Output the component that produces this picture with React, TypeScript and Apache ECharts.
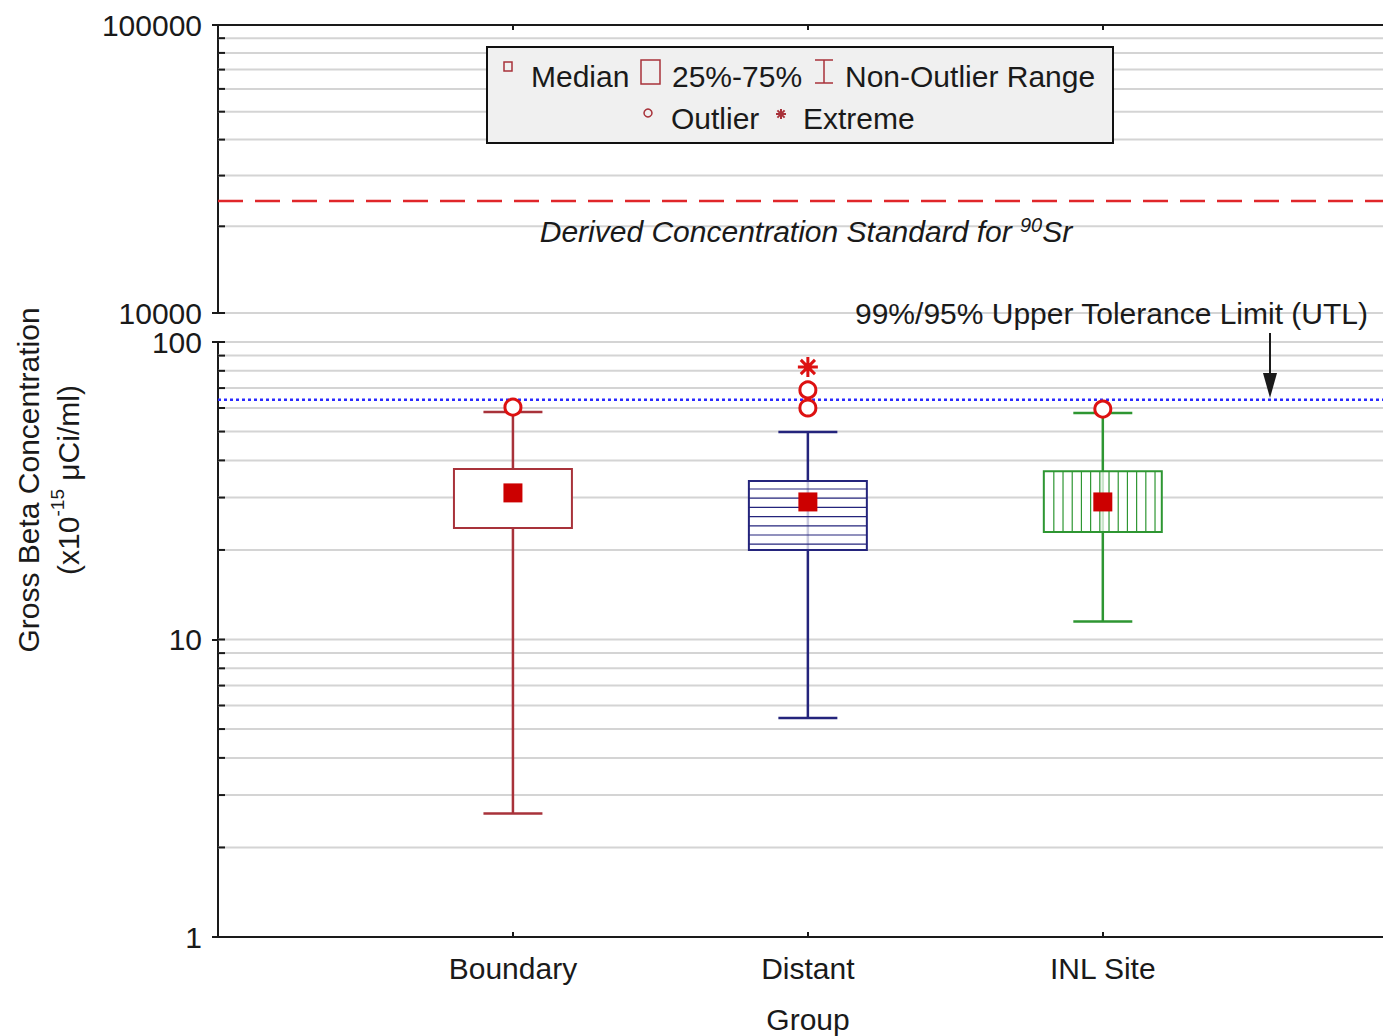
import React, { useEffect, useRef } from "react";
import * as echarts from "echarts";

const GROUPS = ["Boundary", "Distant", "INL Site"];
const GROUP_POS = [1, 2, 3];
const WHISKER_LOW = [2.6, 5.45, 11.5];
const Q1 = [23.7, 20.0, 23.0];
const MEDIAN = [31.1, 29.0, 29.0];
const Q3 = [37.4, 34.1, 36.8];
const WHISKER_HIGH = [58.2, 49.8, 57.7];
const OUTLIERS = [[60.4], [60.0, 69.0], [59.5]];
const EXTREMES = [[], [82.4], []];
const DCS = 24500;
const UTL = 64;
const UPPER_LINES = [10000, 20000, 30000, 40000, 50000, 60000, 70000, 80000, 90000];
const LOWER_LINES = [2, 3, 4, 5, 6, 7, 8, 9, 10, 20, 30, 40, 50, 60, 70, 80, 90, 100];
const BOX_COLORS = ["#a8323a", "#24247c", "#2e9632"];
const HATCH = ["none", "horizontal", "vertical"];
const XMAX = 3.95;

const FONT = "'Liberation Sans', Arial, sans-serif";
const INK = "#1a1a1a";

export default function App() {
  const ref = useRef<HTMLDivElement>(null);
  useEffect(() => {
    if (!ref.current) return;
    const chart = echarts.init(ref.current, undefined, { renderer: "svg" });

    const gridRender = (params: any, api: any) => {
      const v = api.value(1);
      const a = api.coord([0, v]);
      const b = api.coord([XMAX, v]);
      return {
        type: "group",
        children: [
          { type: "line", shape: { x1: a[0], y1: a[1], x2: b[0], y2: b[1] }, style: { stroke: "#d4d4d4", lineWidth: 2 } },
          { type: "line", shape: { x1: a[0], y1: a[1], x2: a[0] + 7, y2: a[1] }, style: { stroke: INK, lineWidth: 2 } },
        ],
      };
    };

    const boxRender = (params: any, api: any) => {
      const i = params.dataIndex;
      const x = api.value(0);
      const low = api.value(1), q1 = api.value(2), q3 = api.value(4), high = api.value(5);
      const color = BOX_COLORS[i];
      const pLow = api.coord([x, low]);
      const pHigh = api.coord([x, high]);
      const pQ1 = api.coord([x, q1]);
      const pQ3 = api.coord([x, q3]);
      const left = api.coord([x - 0.2, q3])[0];
      const right = api.coord([x + 0.2, q3])[0];
      const capL = api.coord([x - 0.1, q3])[0];
      const capR = api.coord([x + 0.1, q3])[0];
      const top = pQ3[1], bottom = pQ1[1];
      const children: any[] = [
        { type: "line", shape: { x1: pLow[0], y1: pLow[1], x2: pHigh[0], y2: pHigh[1] }, style: { stroke: color, lineWidth: 2.5 } },
        { type: "line", shape: { x1: capL, y1: pLow[1], x2: capR, y2: pLow[1] }, style: { stroke: color, lineWidth: 2.5 } },
        { type: "line", shape: { x1: capL, y1: pHigh[1], x2: capR, y2: pHigh[1] }, style: { stroke: color, lineWidth: 2.5 } },
        {
          type: "rect",
          shape: { x: left, y: top, width: right - left, height: bottom - top },
          style: { fill: HATCH[i] === "none" ? "#ffffff" : "rgba(255,255,255,0.75)", stroke: color, lineWidth: 2 },
        },
      ];
      if (HATCH[i] === "horizontal") {
        for (let y = top + 8; y < bottom - 3; y += 9.2) {
          children.push({ type: "line", shape: { x1: left, y1: y, x2: right, y2: y }, style: { stroke: color, lineWidth: 1.2 } });
        }
      } else if (HATCH[i] === "vertical") {
        for (let xx = left + 10; xx < right - 3; xx += 9.2) {
          children.push({ type: "line", shape: { x1: xx, y1: top, x2: xx, y2: bottom }, style: { stroke: color, lineWidth: 1.2 } });
        }
      }
      return { type: "group", children };
    };

    const medianData = MEDIAN.map((m, i) => [GROUP_POS[i], m]);
    const outlierData: number[][] = [];
    OUTLIERS.forEach((arr, i) => arr.forEach((v) => outlierData.push([GROUP_POS[i], v])));
    const extremeData: number[][] = [];
    EXTREMES.forEach((arr, i) => arr.forEach((v) => extremeData.push([GROUP_POS[i], v])));
    const boxData = GROUPS.map((_, i) => [GROUP_POS[i], WHISKER_LOW[i], Q1[i], MEDIAN[i], Q3[i], WHISKER_HIGH[i]]);

    const axisLineStyle = { color: INK, width: 2 };
    const lc = "#a8323a";

    const legendAst = (cx: number, cy: number, r: number) => {
      const d = r * 0.72;
      const mk = (x1: number, y1: number, x2: number, y2: number) => ({
        type: "line",
        z: 100,
        shape: { x1, y1, x2, y2 },
        style: { stroke: lc, lineWidth: 2 },
      });
      return [
        mk(cx, cy - r, cx, cy + r),
        mk(cx - r, cy, cx + r, cy),
        mk(cx - d, cy - d, cx + d, cy + d),
        mk(cx + d, cy - d, cx - d, cy + d),
      ];
    };

    const txt = (text: string, x: number, y: number, extra: any = {}) => ({
      type: "text",
      x,
      y,
      style: { text, fontSize: 30, fontFamily: FONT, fill: INK, align: "left", verticalAlign: "middle", ...extra },
      z: 100,
    });

    const option: any = {
      animation: false,
      textStyle: { fontFamily: FONT },
      grid: [
        { left: 218, top: 25, width: 1165, height: 288 },
        { left: 218, top: 342, width: 1165, height: 595 },
      ],
      xAxis: [
        {
          gridIndex: 0,
          type: "value",
          min: 0,
          max: XMAX,
          interval: 1,
          position: "top",
          axisLine: { show: true, onZero: false, lineStyle: axisLineStyle },
          axisTick: { show: true, inside: true, length: 5, lineStyle: axisLineStyle, customValues: GROUP_POS },
          axisLabel: { show: false },
          splitLine: { show: false },
        },
        {
          gridIndex: 1,
          type: "value",
          min: 0,
          max: XMAX,
          interval: 1,
          position: "bottom",
          axisLine: { show: true, onZero: false, lineStyle: axisLineStyle },
          axisTick: { show: true, inside: true, length: 5, lineStyle: axisLineStyle, customValues: GROUP_POS },
          axisLabel: {
            show: true,
            fontSize: 30,
            color: INK,
            margin: 16,
            fontFamily: FONT,
            customValues: GROUP_POS,
            formatter: (v: number) => {
              const i = GROUP_POS.indexOf(Math.round(v));
              return i >= 0 ? GROUPS[i] : "";
            },
          },
          splitLine: { show: false },
        },
      ],
      yAxis: [
        {
          gridIndex: 0,
          type: "log",
          logBase: 10,
          min: 10000,
          max: 100000,
          axisLine: { show: true, onZero: false, lineStyle: axisLineStyle },
          axisTick: { show: true, length: 6, lineStyle: axisLineStyle },
          axisLabel: { fontSize: 30, lineHeight: 27, color: INK, margin: 16, fontFamily: FONT, formatter: (v: number) => String(Math.round(v)) },
          splitLine: { show: false },
        },
        {
          gridIndex: 1,
          type: "log",
          logBase: 10,
          min: 1,
          max: 100,
          axisLine: { show: true, onZero: false, lineStyle: axisLineStyle },
          axisTick: { show: true, length: 6, lineStyle: axisLineStyle },
          axisLabel: { fontSize: 30, lineHeight: 27, color: INK, margin: 16, fontFamily: FONT, formatter: (v: number) => String(Math.round(v)) },
          splitLine: { show: false },
        },
      ],
      series: [
        {
          type: "custom",
          xAxisIndex: 0,
          yAxisIndex: 0,
          renderItem: gridRender,
          data: UPPER_LINES.map((v) => [0, v]),
          encode: { x: 0, y: 1 },
          silent: true,
          z: 1,
        },
        {
          type: "custom",
          xAxisIndex: 1,
          yAxisIndex: 1,
          renderItem: gridRender,
          data: LOWER_LINES.map((v) => [0, v]),
          encode: { x: 0, y: 1 },
          silent: true,
          z: 1,
        },
        {
          type: "line",
          xAxisIndex: 0,
          yAxisIndex: 0,
          data: [[0, DCS], [XMAX, DCS]],
          symbol: "none",
          lineStyle: { color: "#e0262a", width: 2.5, type: [25, 12] },
          silent: true,
          z: 3,
        },
        {
          type: "line",
          xAxisIndex: 1,
          yAxisIndex: 1,
          data: [[0, UTL], [XMAX, UTL]],
          symbol: "none",
          lineStyle: { color: "#2a2aff", width: 2.5, type: [3, 3] },
          silent: true,
          z: 3,
        },
        {
          type: "custom",
          xAxisIndex: 1,
          yAxisIndex: 1,
          renderItem: boxRender,
          data: boxData,
          encode: { x: 0, y: [1, 2, 3, 4, 5] },
          z: 4,
        },
        {
          type: "scatter",
          xAxisIndex: 1,
          yAxisIndex: 1,
          data: medianData,
          symbol: "rect",
          symbolSize: 19,
          itemStyle: { color: "#cc0000", opacity: 1 },
          z: 5,
        },
        {
          type: "scatter",
          xAxisIndex: 1,
          yAxisIndex: 1,
          data: outlierData,
          symbol: "circle",
          symbolSize: 16,
          itemStyle: { color: "#ffffff", borderColor: "#dd1111", borderWidth: 3, opacity: 1 },
          z: 5,
        },
        {
          type: "scatter",
          xAxisIndex: 1,
          yAxisIndex: 1,
          data: extremeData,
          symbol: "path://M12,0L12,24M0,12L24,12M3.5,3.5L20.5,20.5M20.5,3.5L3.5,20.5",
          symbolSize: 20,
          itemStyle: { color: "transparent", borderColor: "#dd1111", borderWidth: 3, opacity: 1 },
          z: 5,
        },
      ],
      graphic: [
        {
          type: "rect",
          shape: { x: 487, y: 47, width: 626, height: 96 },
          style: { fill: "#f0f0f0", stroke: "#111", lineWidth: 2 },
          z: 90,
        },
        { type: "rect", shape: { x: 504, y: 62, width: 8, height: 9 }, style: { fill: "none", stroke: lc, lineWidth: 1.5 }, z: 100 },
        txt("Median", 531, 76),
        { type: "rect", shape: { x: 641, y: 60, width: 19, height: 24 }, style: { fill: "none", stroke: lc, lineWidth: 1.5 }, z: 100 },
        txt("25%-75%", 672, 76),
        { type: "line", shape: { x1: 815, y1: 60, x2: 833, y2: 60 }, style: { stroke: lc, lineWidth: 1.5 }, z: 100 },
        { type: "line", shape: { x1: 824, y1: 60, x2: 824, y2: 83 }, style: { stroke: lc, lineWidth: 1.5 }, z: 100 },
        { type: "line", shape: { x1: 815, y1: 83, x2: 833, y2: 83 }, style: { stroke: lc, lineWidth: 1.5 }, z: 100 },
        txt("Non-Outlier Range", 845, 76),
        { type: "circle", shape: { cx: 648, cy: 113, r: 4 }, style: { fill: "none", stroke: lc, lineWidth: 1.5 }, z: 100 },
        txt("Outlier", 671, 118),
        ...legendAst(781, 114, 5),
        txt("Extreme", 803, 118),
        {
          type: "text",
          x: 806,
          y: 231,
          z: 100,
          style: {
            text: "{i|Derived Concentration Standard for }{s|90}{i|Sr}",
            align: "center",
            verticalAlign: "middle",
            fill: INK,
            rich: {
              i: { fontSize: 30, fontStyle: "italic", fontFamily: FONT, fill: INK, lineHeight: 32 },
              s: { fontSize: 20, fontStyle: "italic", fontFamily: FONT, fill: INK, verticalAlign: "top", lineHeight: 32 },
            },
          },
        },
        txt("99%/95% Upper Tolerance Limit (UTL)", 855, 313),
        { type: "line", shape: { x1: 1270, y1: 333, x2: 1270, y2: 378 }, style: { stroke: INK, lineWidth: 2 }, z: 100 },
        { type: "polygon", shape: { points: [[1263, 373], [1277, 373], [1270, 398]] }, style: { fill: INK }, z: 100 },
        {
          type: "text",
          x: 48,
          y: 480,
          rotation: Math.PI / 2,
          z: 100,
          style: {
            text: "Gross Beta Concentration\n(x10{sup|-15} μCi/ml)",
            fontSize: 30,
            fontFamily: FONT,
            fill: INK,
            lineHeight: 40,
            align: "center",
            verticalAlign: "middle",
            rich: {
              sup: { fontSize: 19, fontFamily: FONT, fill: INK, verticalAlign: "top", lineHeight: 40 },
            },
          },
        },
        txt("Group", 808, 1019, { align: "center" }),
      ],
    };

    chart.setOption(option);
    return () => chart.dispose();
  }, []);

  return (
    <div
      ref={ref}
      style={{ position: "absolute", left: 0, top: 0, width: 1383, height: 1036, background: "#ffffff" }}
    />
  );
}
